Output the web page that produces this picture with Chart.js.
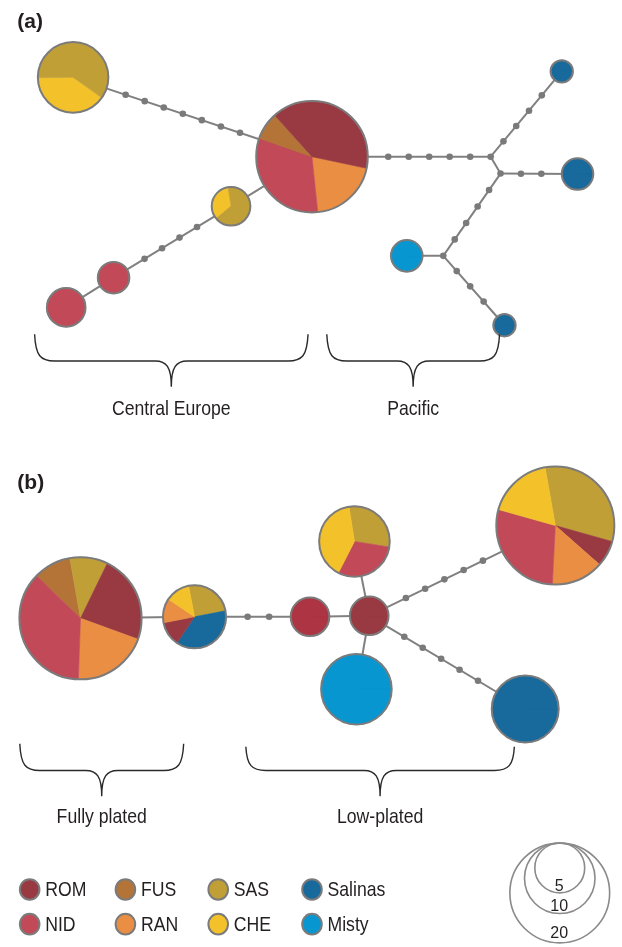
<!DOCTYPE html>
<html lang="en">
<head>
<meta charset="UTF-8">
<title>Haplotype networks</title>
<script src="https://cdn.jsdelivr.net/npm/chart.js"></script>
<style>
    html, body { margin: 0; padding: 0; background: #fff; }
    #wrap { width: 622px; height: 947px; position: relative; }
</style>
</head>
<body>
<div id="wrap"><canvas id="net"></canvas></div>
<script>
    // populations and their colours
    const popNames  = ['ROM', 'NID', 'FUS', 'RAN', 'SAS', 'CHE', 'Salinas', 'Misty'];
    const popColors = ['#993a43', '#c24a58', '#b57437', '#e98e42', '#c19f37', '#f3c22b', '#186a9c', '#0896d1'];
    const mixColor = '#ad3443'; // the one plain crimson node in (b)

    // haplotype nodes (a = panel a, b = panel b, j = median vectors)
    const nodeIds = ['a0', 'a1', 'a2', 'a3', 'a4', 'a5', 'a6', 'a7', 'a8', 'ja1', 'ja2', 'ja3',
                     'b0', 'b1', 'b2', 'b3', 'b4', 'b5', 'b6', 'b7'];
    const nodeX = [70, 312, 230, 111, 63, 565, 581, 408, 507, 493, 503, 445,
                   77.5, 193, 310, 370, 355, 357, 558.5, 528];
    const nodeY = [74, 154, 204, 276, 306, 68, 171.5, 254, 324, 154, 171, 254,
                   619.5, 618, 618, 617, 542, 691, 526, 711];
    // first slice angle in degrees, clockwise from 3 o'clock
    const nodeStart = [35.5, 12, 141, 0, 0, 0, 0, 0, 0, 0, 0, 0,
                       224, 259, 0, 0, 261, 0, 260, 0];
    // haplotype counts per population, in drawing order
    const nodeCounts = [
        [['CHE', 4], ['SAS', 6]],
        [['RAN', 5], ['NID', 8], ['FUS', 2], ['ROM', 10]],
        [['CHE', 1], ['SAS', 2]],
        [['NID', 2]],
        [['NID', 3]],
        [['Salinas', 1]],
        [['Salinas', 2]],
        [['Misty', 2]],
        [['Salinas', 1]],
        [], [], [],
        [['FUS', 3], ['SAS', 3], ['ROM', 7], ['RAN', 6], ['NID', 11]],
        [['SAS', 2], ['Salinas', 3], ['ROM', 1], ['RAN', 1], ['CHE', 1]],
        [['mix', 3]],
        [['ROM', 3]],
        [['SAS', 3], ['NID', 3], ['CHE', 4]],
        [['Misty', 10]],
        [['SAS', 9], ['ROM', 2], ['RAN', 4], ['NID', 8], ['CHE', 5]],
        [['Salinas', 9]]
    ];

    // links and number of mutational steps on each
    const edgeFrom  = ['a0', 'a1', 'ja1', 'ja1', 'ja2', 'ja2', 'ja3', 'ja3', 'a1', 'a2', 'a3',
                       'b0', 'b1', 'b2', 'b3', 'b3', 'b3', 'b3'];
    const edgeTo    = ['a1', 'ja1', 'a5', 'ja2', 'a6', 'ja3', 'a7', 'a8', 'a2', 'a3', 'a4',
                       'b1', 'b2', 'b3', 'b4', 'b5', 'b6', 'b7'];
    const edgeSteps = [7, 5, 4, 0, 2, 4, 0, 3, 0, 4, 0,
                       0, 2, 0, 0, 0, 5, 5];

    // brackets under the networks
    const groupLabels = ['Central Europe', 'Pacific', 'Fully plated', 'Low-plated'];
    const groupFrom   = [31, 327, 16, 245];
    const groupTo     = [308, 502, 182, 517];

    // size key
    const sizeKey = [5, 10, 20];

    const K = 11.3; // radius per sqrt(count)
    const idx = id => nodeIds.indexOf(id);
    const total = i => nodeCounts[i].reduce((s, d) => s + d[1], 0);
    const radius = i => K * Math.sqrt(total(i));
    const colorOf = p => p === 'mix' ? mixColor : popColors[popNames.indexOf(p)];

    // edges as separate little line datasets
    const edgeSets = edgeFrom.map((f, i) => {
        const a = idx(f), b = idx(edgeTo[i]);
        return {
            type: 'line',
            data: [{x: nodeX[a], y: nodeY[a]}, {x: nodeX[b], y: nodeY[b]}],
            borderColor: '#808080',
            borderWidth: 2,
            pointRadius: 0,
            order: 3
        };
    });

    // mutation steps sit evenly between node rims
    const stepPts = [];
    edgeFrom.forEach((f, i) => {
        const a = idx(f), b = idx(edgeTo[i]);
        const n = edgeSteps[i];
        if (!n) return;
        const dx = nodeX[b] - nodeX[a], dy = nodeY[b] - nodeY[a];
        const d = Math.hypot(dx, dy);
        const ra = radius(a), rb = radius(b);
        const gap = (d - ra - rb) / (n + 1);
        for (let s = 1; s <= n; s++) {
            const t = (ra + gap * s) / d;
            stepPts.push({x: nodeX[a] + dx * t, y: nodeY[a] + dy * t});
        }
    });
    // median vectors
    nodeIds.forEach((id, i) => {
        if (!total(i)) stepPts.push({x: nodeX[i], y: nodeY[i]});
    });

    function txt(ctx, str, px, py, size, align, sx, bold) {
        ctx.save();
        ctx.font = (bold ? 'bold ' : '') + size + 'px "Liberation Sans", Arial, sans-serif';
        ctx.fillStyle = '#231f20';
        ctx.textAlign = align;
        ctx.textBaseline = 'alphabetic';
        ctx.translate(px, py);
        ctx.scale(sx, 1);
        ctx.fillText(str, 0, 0);
        ctx.restore();
    }

    function brace(ctx, x0, x1, yTop, yMid, yTip) {
        const xm = (x0 + x1) / 2;
        ctx.beginPath();
        ctx.moveTo(x0, yTop);
        ctx.bezierCurveTo(x0 + 1, yMid - 5, x0 + 6, yMid, x0 + 20, yMid);
        ctx.lineTo(xm - 16, yMid);
        ctx.bezierCurveTo(xm - 5, yMid, xm, yMid + 6, xm, yTip);
        ctx.bezierCurveTo(xm, yMid + 6, xm + 5, yMid, xm + 16, yMid);
        ctx.lineTo(x1 - 20, yMid);
        ctx.bezierCurveTo(x1 - 6, yMid, x1 - 1, yMid - 5, x1, yTop);
        ctx.stroke();
    }

    const networkPlugin = {
        id: 'network',
        afterDatasetsDraw(chart) {
            const {ctx, scales: {x, y}} = chart;
            const px = v => x.getPixelForValue(v);
            const py = v => y.getPixelForValue(v);
            const len = v => Math.abs(px(v) - px(0));

            // pie nodes
            nodeIds.forEach((id, i) => {
                const tot = total(i);
                if (!tot) return;
                const cx = px(nodeX[i]), cy = py(nodeY[i]), r = len(radius(i));
                let a = nodeStart[i] * Math.PI / 180;
                nodeCounts[i].forEach(([p, n]) => {
                    const b = a + n / tot * 2 * Math.PI;
                    ctx.beginPath();
                    ctx.moveTo(cx, cy);
                    ctx.arc(cx, cy, r, a, b);
                    ctx.closePath();
                    ctx.fillStyle = colorOf(p);
                    ctx.strokeStyle = colorOf(p);
                    ctx.lineWidth = 0.6;
                    ctx.fill();
                    ctx.stroke();
                    a = b;
                });
                ctx.beginPath();
                ctx.arc(cx, cy, r, 0, 2 * Math.PI);
                ctx.lineWidth = 2;
                ctx.strokeStyle = '#7b7b7b';
                ctx.stroke();
            });

            // brackets + group names
            ctx.save();
            ctx.strokeStyle = '#2a2a2a';
            ctx.lineWidth = 1.4;
            groupLabels.forEach((g, i) => {
                const top = i < 2 ? 333 : (i === 2 ? 746 : 749);
                const mid = i < 2 ? 360 : 773;
                const tip = i < 2 ? 386 : 799;
                brace(ctx, px(groupFrom[i]), px(groupTo[i]), py(top), py(mid), py(tip));
                const xm = px((groupFrom[i] + groupTo[i]) / 2);
                txt(ctx, g, xm, py(i < 2 ? 415 : 826), 21, 'center', 0.84, false);
            });
            ctx.restore();

            // panel letters
            txt(ctx, '(a)', px(13.5), py(24.5), 21, 'left', 1, true);
            txt(ctx, '(b)', px(13.5), py(489.5), 21, 'left', 1, true);

            // population key
            const colX = [26, 123, 217, 312];
            const rowY = [893, 928];
            popNames.forEach((p, i) => {
                const cx = px(colX[Math.floor(i / 2)]), cy = py(rowY[i % 2]);
                ctx.beginPath();
                ctx.ellipse(cx, cy, 9.8, 10.3, 0, 0, 2 * Math.PI);
                ctx.fillStyle = popColors[i];
                ctx.fill();
                ctx.lineWidth = 2;
                ctx.strokeStyle = '#7b7b7b';
                ctx.stroke();
                txt(ctx, p, cx + 15.5, cy + 6.8, 21, 'left', 0.84, false);
            });

            // size key: nested circles touching at the top
            const keyX = 563, keyTop = 846;
            const keyBase = [894.5, 914.5, 942];
            sizeKey.forEach((n, i) => {
                const r = K * Math.sqrt(n);
                ctx.beginPath();
                ctx.arc(px(keyX), py(keyTop + r), len(r), 0, 2 * Math.PI);
                ctx.lineWidth = 1.6;
                ctx.strokeStyle = '#8a8a8a';
                ctx.stroke();
                txt(ctx, String(n), px(keyX - 0.5), py(keyBase[i]), 16, 'center', 1, false);
            });
        }
    };

    new Chart(document.getElementById('net'), {
        type: 'scatter',
        data: {
            datasets: [
                ...edgeSets,
                {
                    type: 'scatter',
                    data: stepPts,
                    pointRadius: 3.3,
                    pointBackgroundColor: '#7a7a7a',
                    pointBorderWidth: 0,
                    order: 1
                }
            ]
        },
        options: {
            responsive: true,
            maintainAspectRatio: false,
            animation: false,
            events: [],
            layout: { padding: 0 },
            scales: {
                x: { type: 'linear', min: 0, max: 622, display: false },
                y: { type: 'linear', min: 0, max: 947, reverse: true, display: false }
            },
            plugins: {
                legend: { display: false },
                tooltip: { enabled: false }
            }
        },
        plugins: [networkPlugin]
    });
</script>
</body>
</html>
